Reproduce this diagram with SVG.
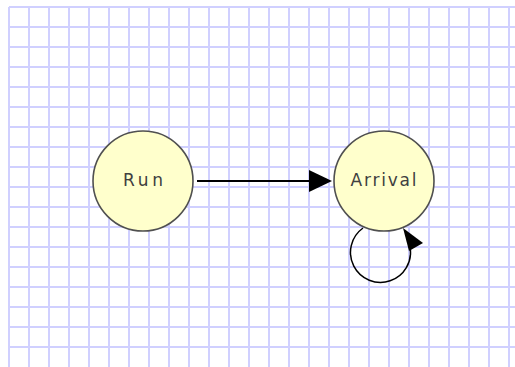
<svg xmlns="http://www.w3.org/2000/svg" width="515" height="367" viewBox="0 0 515 367">
<style>
.grid{stroke:#d0d0ff;stroke-width:2;fill:none}
.node circle{fill:#ffffcc;stroke:#505050;stroke-width:1.6}
.node text{font-family:"DejaVu Sans",sans-serif;font-size:17px;fill:#404040;text-anchor:middle}
.edge{stroke:#000;fill:none}
.head{fill:#000}
</style>
<rect width="515" height="367" fill="#fff"/>
<path class="grid" d="M9 7V367M29 7V367M49 7V367M69 7V367M89 7V367M109 7V367M129 7V367M149 7V367M169 7V367M189 7V367M209 7V367M229 7V367M249 7V367M269 7V367M289 7V367M309 7V367M329 7V367M349 7V367M369 7V367M389 7V367M409 7V367M429 7V367M449 7V367M469 7V367M489 7V367M509 7V367M9 7H515M9 27H515M9 47H515M9 67H515M9 87H515M9 107H515M9 127H515M9 147H515M9 167H515M9 187H515M9 207H515M9 227H515M9 247H515M9 267H515M9 287H515M9 307H515M9 327H515M9 347H515"/>
<g id="connectors">
<path class="edge" stroke-width="2" d="M197 181H312"/>
<polygon class="head" points="309,170 332,181 309,192"/>
<path class="edge" stroke-width="1.5" d="M363 228A30 30 0 1 0 410 247"/>
<polygon class="head" points="403,228 423,243 409,251"/>
</g>
<g id="node-run" class="node">
<circle cx="143" cy="181" r="50"/>
<text x="143" y="186" textLength="40" lengthAdjust="spacing">Run</text>
</g>
<g id="node-arrival" class="node">
<circle cx="384" cy="181" r="50"/>
<text x="383.5" y="186" textLength="66" lengthAdjust="spacing">Arrival</text>
</g>
</svg>
